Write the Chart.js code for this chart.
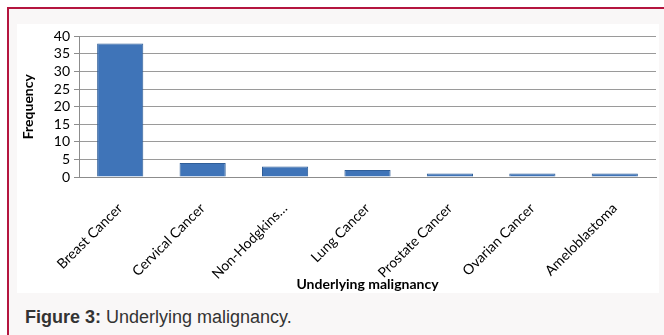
<!DOCTYPE html>
<html>
<head>
<meta charset="utf-8">
<script src="https://cdn.jsdelivr.net/npm/chart.js@4/dist/chart.umd.min.js"></script>
<style>
  body { margin: 0; background: #fff; width: 664px; height: 335px; overflow: hidden; font-family: "Liberation Sans", Arial, sans-serif; }
  #frame { position: absolute; left: 7px; top: 7px; width: 670px; height: 340px; border-top: 2px solid #b4153f; border-left: 2px solid #b4153f; background: #f9f7f7; }
  #panel { position: absolute; left: 17px; top: 24px; width: 642px; height: 269px; background: #fff; }
  #caption { position: absolute; left: 25px; top: 308px; font-size: 18px; line-height: 18px; color: #333; white-space: nowrap; }
</style>
</head>
<body>
<div id="frame"></div>
<div id="panel"><canvas id="chart" width="642" height="269"></canvas></div>
<div id="caption"><b>Figure 3:</b> Underlying malignancy.</div>
<script>
var categories = ["Breast Cancer", "Cervical Cancer", "Non-Hodgkins\u2026", "Lung Cancer", "Prostate Cancer", "Ovarian Cancer", "Ameloblastoma"];
var frequency = [38, 4, 3, 2, 1, 1, 1];
var yTicks = [0, 5, 10, 15, 20, 25, 30, 35, 40];

var FONT = "Lato, 'Liberation Sans', sans-serif";

function barFill(ctx) {
  var bar = ctx.element;
  if (!bar || bar.x === undefined || !bar.width) return "#3f74b8";
  var c = ctx.chart.ctx;
  var g = c.createLinearGradient(bar.x - bar.width / 2, 0, bar.x + bar.width / 2, 0);
  g.addColorStop(0, "#2d5d9c");
  g.addColorStop(0.12, "#3d72b6");
  g.addColorStop(0.5, "#4b82c6");
  g.addColorStop(0.88, "#3d72b6");
  g.addColorStop(1, "#2d5d9c");
  return g;
}

new Chart(document.getElementById("chart"), {
  type: "bar",
  data: {
    labels: categories,
    datasets: [{
      data: frequency,
      backgroundColor: barFill,
      borderColor: "#2f5e98",
      borderWidth: 1,
      categoryPercentage: 0.56,
      barPercentage: 1
    }]
  },
  options: {
    responsive: false,
    animation: false,
    devicePixelRatio: 1,
    layout: { padding: { left: 3, right: 3, top: 4, bottom: 0 } },
    plugins: { legend: { display: false }, tooltip: { enabled: false } },
    scales: {
      x: {
        grid: { display: false },
        border: { color: "#8c8c8c" },
        ticks: {
          autoSkip: false, minRotation: 45, maxRotation: 45, padding: 15,
          color: "#000", font: { family: FONT, size: 14 }
        },
        title: {
          display: true, text: "Underlying malignancy", color: "#000",
          padding: { top: 0, bottom: 0 },
          font: { family: FONT, size: 14, weight: "bold" }
        },
        afterFit: function(s) { s.height = 116; }
      },
      y: {
        min: 0, max: 40,
        afterBuildTicks: function(s) { s.ticks = yTicks.map(function(v) { return { value: v }; }); },
        grid: { color: "#9a9a9a", tickLength: 5, tickColor: "#8c8c8c" },
        border: { color: "#8c8c8c" },
        ticks: { autoSkip: false, color: "#000", padding: 4, font: { family: FONT, size: 14 } },
        title: {
          display: true, text: "Frequency", color: "#000", padding: { top: 0, bottom: 4 },
          font: { family: FONT, size: 14, weight: "bold" }
        },
        afterFit: function(s) { s.width = 59; }
      }
    }
  }
});
</script>
</body>
</html>
